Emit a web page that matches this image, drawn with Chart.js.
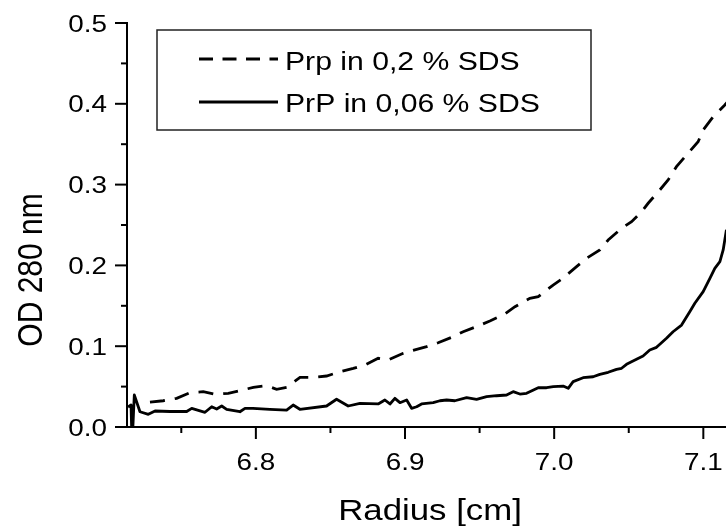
<!DOCTYPE html>
<html>
<head>
<meta charset="utf-8">
<title>OD 280 nm vs Radius</title>
<script src="https://cdn.jsdelivr.net/npm/chart.js@4.4.1/dist/chart.umd.min.js"></script>
<style>
    html, body { margin: 0; padding: 0; background: #fff; }
    canvas { display: block; }
</style>
</head>
<body>
<canvas id="odChart" width="726" height="530"></canvas>
<script>
// ============================================================================
// Data
// ============================================================================

const X_MIN = 6.7136;
const X_MAX = 7.1152;
const Y_MIN = 0;
const Y_MAX = 0.5;

const xMajorTicks = ["6.8", "6.9", "7.0", "7.1"];
const xMinorTicks = [6.75, 6.85, 6.95, 7.05];
const yMajorTicks = ["0.0", "0.1", "0.2", "0.3", "0.4", "0.5"];
const yMinorTicks = [0.05, 0.15, 0.25, 0.35, 0.45];

const seriesLabels = ["Prp in 0,2 % SDS", "PrP in 0,06 % SDS"];

// Prp in 0,2 % SDS (dashed)
const dashedX = [
    6.7290, 6.7379, 6.7469, 6.7558, 6.7647, 6.7726, 6.7815, 6.7893, 6.7983, 6.8072,
    6.8139, 6.8206, 6.8296, 6.8385, 6.8474, 6.8564, 6.8653, 6.8731, 6.8820, 6.8887,
    6.8988, 6.9044, 6.9145, 6.9222, 6.9323, 6.9390, 6.9490, 6.9569, 6.9669, 6.9737,
    6.9837, 6.9893, 6.9993, 7.0049, 7.0150, 7.0217, 7.0306, 7.0362, 7.0452, 7.0519,
    7.0586, 7.0630, 7.0708, 7.0764, 7.0820, 7.0887, 7.0965, 7.0999, 7.1066, 7.1144,
    7.1160,
];
const dashedY = [
    0.0309, 0.0325, 0.0355, 0.0425, 0.0437, 0.0405, 0.0417, 0.0449, 0.0491, 0.0511,
    0.0467, 0.0491, 0.0615, 0.0615, 0.0631, 0.0684, 0.0726, 0.0767, 0.0850, 0.0829,
    0.0912, 0.0944, 0.0994, 0.1043, 0.1118, 0.1179, 0.1250, 0.1312, 0.1399, 0.1489,
    0.1593, 0.1613, 0.1757, 0.1828, 0.1984, 0.2088, 0.2191, 0.2314, 0.2459, 0.2541,
    0.2665, 0.2769, 0.2933, 0.3057, 0.3222, 0.3366, 0.3531, 0.3676, 0.3840, 0.3985,
    0.4020,
];

// PrP in 0,06 % SDS (solid)
const solidX = [
    6.7143, 6.7163, 6.7170, 6.7185, 6.7223, 6.7279, 6.7324, 6.7424, 6.7536, 6.7570,
    6.7659, 6.7704, 6.7737, 6.7771, 6.7804, 6.7893, 6.7927, 6.7980, 6.8094, 6.8206,
    6.8250, 6.8295, 6.8474, 6.8541, 6.8619, 6.8698, 6.8820, 6.8865, 6.8899, 6.8932,
    6.8966, 6.9011, 6.9044, 6.9078, 6.9111, 6.9189, 6.9234, 6.9279, 6.9334, 6.9413,
    6.9480, 6.9547, 6.9614, 6.9681, 6.9725, 6.9770, 6.9815, 6.9893, 6.9949, 6.9994,
    7.0060, 7.0094, 7.0127, 7.0194, 7.0261, 7.0306, 7.0362, 7.0418, 7.0452, 7.0485,
    7.0552, 7.0596, 7.0641, 7.0686, 7.0753, 7.0797, 7.0854, 7.0909, 7.0943, 7.0999,
    7.1044, 7.1077, 7.1111, 7.1133, 7.1155,
];
const solidY = [
    0.0248, 0.0272, -0.0220, 0.0396, 0.0189, 0.0157, 0.0198, 0.0192, 0.0192, 0.0231,
    0.0182, 0.0251, 0.0223, 0.0260, 0.0219, 0.0189, 0.0231, 0.0231, 0.0219, 0.0210,
    0.0272, 0.0219, 0.0260, 0.0343, 0.0260, 0.0293, 0.0285, 0.0334, 0.0285, 0.0355,
    0.0301, 0.0334, 0.0231, 0.0251, 0.0285, 0.0301, 0.0325, 0.0334, 0.0325, 0.0363,
    0.0343, 0.0375, 0.0387, 0.0396, 0.0437, 0.0408, 0.0417, 0.0486, 0.0486, 0.0499,
    0.0507, 0.0479, 0.0561, 0.0610, 0.0622, 0.0652, 0.0677, 0.0714, 0.0727, 0.0776,
    0.0838, 0.0879, 0.0953, 0.0986, 0.1098, 0.1179, 0.1262, 0.1427, 0.1531, 0.1675,
    0.1840, 0.1964, 0.2046, 0.2191, 0.2440,
];

// ============================================================================
// Helpers
// ============================================================================

const FONT = '"Liberation Sans", Arial, sans-serif';
const STRETCH = 1.16; // the scan is a little wider than tall

/**
 * Zip two arrays into Chart.js {x, y} points
 */
function toPoints(xs, ys) {
    return xs.map((x, i) => ({ x, y: ys[i] }));
}

/**
 * Draw horizontally stretched text
 */
function drawText(ctx, text, x, y, align, size) {
    ctx.save();
    ctx.translate(x, y);
    ctx.scale(STRETCH, 1);
    ctx.font = `${size}px ${FONT}`;
    ctx.textAlign = align;
    ctx.textBaseline = "alphabetic";
    ctx.fillStyle = "#000";
    ctx.fillText(text, 0, 0);
    ctx.restore();
}

function line(ctx, x1, y1, x2, y2) {
    ctx.beginPath();
    ctx.moveTo(x1, y1);
    ctx.lineTo(x2, y2);
    ctx.stroke();
}

// ============================================================================
// Axes + legend plugin (Origin style: ticks outside, no frame on top/right)
// ============================================================================

const originAxesPlugin = {
    id: "originAxes",
    afterDatasetsDraw(chart) {
        const ctx = chart.ctx;
        const xs = chart.scales.x;
        const ys = chart.scales.y;
        const area = chart.chartArea;
        const x0 = xs.getPixelForValue(X_MIN);
        const y0 = ys.getPixelForValue(Y_MIN);
        const yTop = ys.getPixelForValue(Y_MAX);

        ctx.save();
        ctx.strokeStyle = "#000";
        ctx.lineWidth = 2;
        ctx.lineCap = "butt";

        // axis lines
        line(ctx, x0, yTop - 1, x0, y0 + 1);
        line(ctx, x0 - 1, y0, area.right + 2, y0);

        // x ticks
        for (const label of xMajorTicks) {
            const px = xs.getPixelForValue(parseFloat(label));
            line(ctx, px, y0, px, y0 + 12);
            drawText(ctx, label, px, 470, "center", 24);
        }
        for (const v of xMinorTicks) {
            const px = xs.getPixelForValue(v);
            line(ctx, px, y0, px, y0 + 6);
        }

        // y ticks
        for (const label of yMajorTicks) {
            const py = ys.getPixelForValue(parseFloat(label));
            line(ctx, x0, py, x0 - 12, py);
            drawText(ctx, label, x0 - 20, py + 8.6, "right", 24);
        }
        for (const v of yMinorTicks) {
            const py = ys.getPixelForValue(v);
            line(ctx, x0, py, x0 - 6, py);
        }

        // axis titles
        drawText(ctx, "Radius [cm]", 430, 520, "center", 30);

        ctx.save();
        ctx.translate(42, 270);
        ctx.rotate(-Math.PI / 2);
        ctx.scale(1, STRETCH);
        ctx.font = `30px ${FONT}`;
        ctx.textAlign = "center";
        ctx.textBaseline = "alphabetic";
        ctx.fillStyle = "#000";
        ctx.fillText("OD 280 nm", 0, 0);
        ctx.restore();

        // legend box
        ctx.fillStyle = "#fff";
        ctx.fillRect(157, 30, 434, 100);
        ctx.strokeStyle = "#222";
        ctx.lineWidth = 1.5;
        ctx.strokeRect(157, 30, 434, 100);

        ctx.strokeStyle = "#000";
        ctx.lineWidth = 2.8;
        ctx.setLineDash([14, 9.5]);
        line(ctx, 199, 59, 278, 59);
        ctx.setLineDash([]);
        line(ctx, 199, 102, 278, 102);

        drawText(ctx, seriesLabels[0], 285, 70, "left", 26);
        drawText(ctx, seriesLabels[1], 285, 112, "left", 26);

        ctx.restore();
    },
};

// ============================================================================
// Chart
// ============================================================================

function drawOdChart() {
    const canvas = document.getElementById("odChart");

    return new Chart(canvas.getContext("2d"), {
        type: "line",
        data: {
            datasets: [
                {
                    label: seriesLabels[0],
                    data: toPoints(dashedX, dashedY),
                    borderColor: "#000",
                    borderWidth: 2.8,
                    borderDash: [15, 10],
                    borderCapStyle: "butt",
                    pointRadius: 0,
                    tension: 0,
                    fill: false,
                },
                {
                    label: seriesLabels[1],
                    data: toPoints(solidX, solidY),
                    borderColor: "#000",
                    borderWidth: 2.8,
                    borderJoinStyle: "round",
                    pointRadius: 0,
                    tension: 0,
                    fill: false,
                },
            ],
        },
        options: {
            responsive: false,
            animation: false,
            devicePixelRatio: 1,
            layout: { padding: { left: 127, right: 0, top: 23, bottom: 103 } },
            scales: {
                x: { type: "linear", min: X_MIN, max: X_MAX, display: false },
                y: { type: "linear", min: Y_MIN, max: Y_MAX, display: false },
            },
            plugins: {
                legend: { display: false },
                tooltip: { enabled: false },
            },
        },
        plugins: [originAxesPlugin],
    });
}

drawOdChart();
</script>
</body>
</html>
